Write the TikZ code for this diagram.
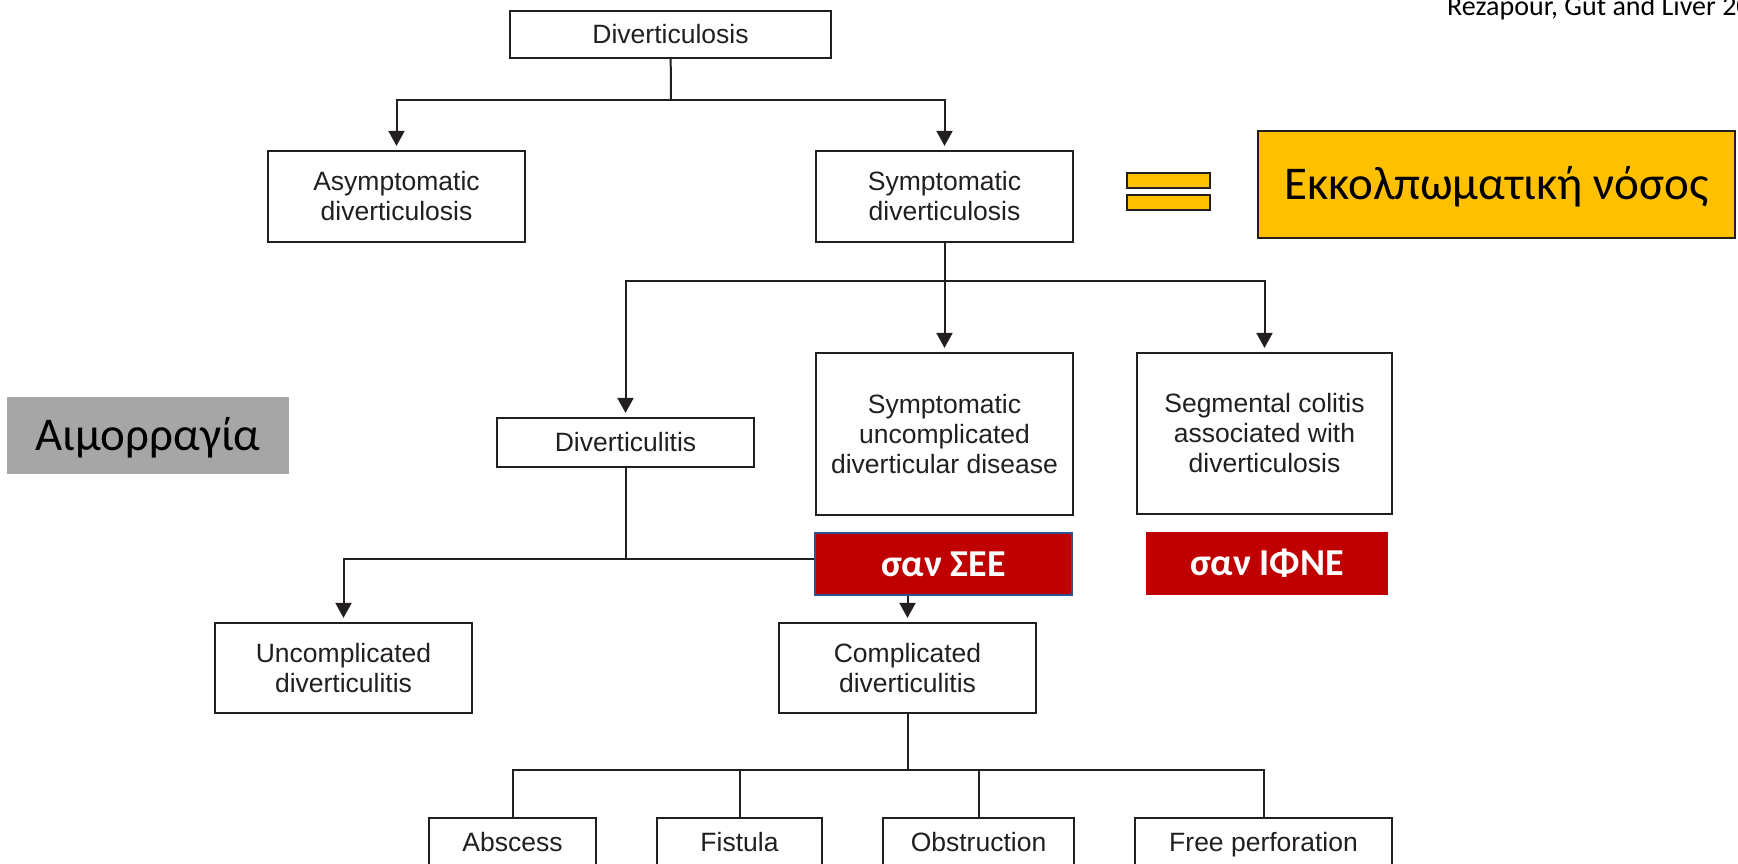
\documentclass[tikz,border=0pt]{standalone}
\usepackage{fontspec}
\setmainfont{Liberation Sans}
\newfontfamily\calibri{Carlito}
\usetikzlibrary{arrows.meta}

\definecolor{ink}{HTML}{231F20}
\definecolor{amber}{HTML}{FFC000}
\definecolor{crimson}{HTML}{C00000}
\definecolor{greybox}{HTML}{A6A6A6}
\definecolor{outlineblue}{HTML}{2F528F}

\tikzset{
  boxsize/.style 2 args={minimum width=#1pt, minimum height=#2pt},
  flowbox/.style={draw=ink, line width=2.2pt, fill=white, text=ink, align=center,
    inner sep=0pt, font=\fontsize{26.5}{30}\selectfont},
  leafbox/.style={flowbox, text height=19pt, text depth=5pt},
  link/.style={draw=ink, line width=2pt},
  arr/.style={link, -{Triangle[width=16pt,length=15pt]}, shorten >=4pt},
  redtag/.style={fill=crimson, text=white, inner sep=0pt,
    font=\calibri\bfseries\fontsize{38}{40}\selectfont, text height=24pt, text depth=0pt},
  greektag/.style={inner sep=0pt, text=black,
    font=\calibri\fontsize{47}{50}\selectfont, text height=30pt, text depth=0pt},
  eqbar/.style={draw=ink, fill=amber, line width=1.5pt, inner sep=0pt, boxsize={83}{15}},
}

\begin{document}
\begin{tikzpicture}[x=1pt,y=-1pt]
\useasboundingbox (0,0) rectangle (1738,864);
\clip (0,0) rectangle (1738,864);

% source line
\node[anchor=base west, inner sep=0pt, text=black, font=\calibri\fontsize{28}{30}\selectfont]
  (cite) at (1447,16) {Rezapour, Gut and Liver 20};

% classification boxes
\node[flowbox, boxsize={321}{47}] (div) at (670.5,34.5) {Diverticulosis};
\node[flowbox, boxsize={257}{91}] (asym) at (396.5,196.5) {Asymptomatic\\diverticulosis};
\node[flowbox, boxsize={257}{91}] (symp) at (944.5,196.5) {Symptomatic\\diverticulosis};
\node[flowbox, boxsize={257}{49}] (divitis) at (625.5,442.5) {Diverticulitis};
\node[flowbox, boxsize={257}{162}] (suncomp) at (944.5,434) {Symptomatic\\uncomplicated\\diverticular disease};
\node[flowbox, boxsize={255}{161}] (seg) at (1264.5,433.5) {Segmental colitis\\associated with\\diverticulosis};
\node[flowbox, boxsize={257}{90}] (uncomp) at (343.5,668) {Uncomplicated\\diverticulitis};
\node[flowbox, boxsize={257}{90}] (comp) at (907.5,668) {Complicated\\diverticulitis};
\node[leafbox, boxsize={167}{52}] (abscess) at (512.5,844) {Abscess};
\node[leafbox, boxsize={165}{52}] (fistula) at (739.5,844) {Fistula};
\node[leafbox, boxsize={191}{52}] (obstr) at (978.5,844) {Obstruction};
\node[leafbox, boxsize={257}{52}] (free) at (1263.5,844) {Free perforation};

% junction points
\coordinate (j1) at (671,100);
\coordinate (j2) at (944.5,281);
\coordinate (j3) at (625.5,559);
\coordinate (j4) at (907.5,770);

% connectors
\draw[link] (div) -- (j1);
\draw[arr] (j1) -| (asym.north);
\draw[arr] (j1) -| (symp.north);

\draw[link] (symp) -- (j2);
\draw[arr] (j2) -| (divitis.north);
\draw[arr] (j2) -- (suncomp.north);
\draw[arr] (j2) -| (seg.north);

\draw[link] (divitis) -- (j3);
\draw[arr] (j3) -| (uncomp.north);
\draw[arr] (j3) -| (comp.north);

\draw[link] (comp) -- (j4);
\draw[link] (j4) -| (abscess.north);
\draw[link] (j4) -| (fistula.north);
\draw[link] (j4) -| (obstr.north);
\draw[link] (j4) -| (free.north);

% annotations
\node[redtag, boxsize={257}{62}, draw=outlineblue, line width=1.5pt] (see) at (943.5,564) {σαν ΣΕΕ};
\node[redtag, boxsize={242}{63}] (ifne) at (1267,563.5) {σαν ΙΦΝΕ};

\node[eqbar] (eqa) at (1168.5,180.5) {};
\node[eqbar] (eqb) at (1168.5,202.5) {};
\node[greektag, fill=amber, draw=ink, line width=2pt, boxsize={477}{107}] (ekk) at (1496.5,184.5) {Εκκολπωματική νόσος};

\node[greektag, fill=greybox, boxsize={282}{77}] (bleed) at (148,435.5) {Αιμορραγία};
\end{tikzpicture}
\end{document}
